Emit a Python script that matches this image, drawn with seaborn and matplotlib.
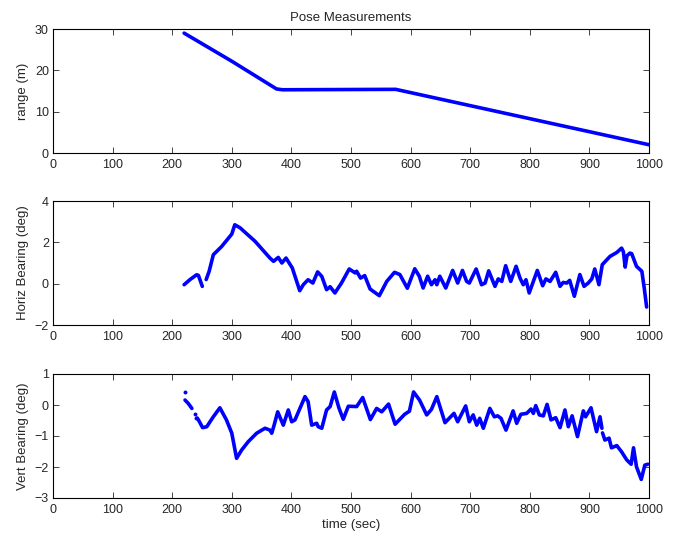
import numpy as np
import pandas as pd
import seaborn as sns
import matplotlib
matplotlib.use("Agg")
import matplotlib.pyplot as plt

# ---------------- data ----------------
range_t = [220, 300, 375, 385, 575, 1000]
range_v = [29.0, 22.2, 15.5, 15.3, 15.4, 2.0]

horiz_t_a = [220, 230, 241, 244, 250.5]
horiz_v_a = [-0.05, 0.2, 0.43, 0.4, -0.13]
horiz_t_b = [257, 262, 269, 283, 300, 305, 314, 339, 364, 370, 378, 384, 391, 398,
             401.5, 414, 420, 428, 436, 444, 451, 459, 465, 473, 484, 497, 507,
             509.5, 516, 523, 532, 547.5, 560, 573, 582, 594.5, 607, 614.6, 621,
             628.6, 635, 641, 644, 649, 659, 670.6, 679, 687, 694, 698.5, 710,
             719, 725, 731, 741.6, 747, 753, 759.5, 768, 777, 783.6, 789, 793.6,
             799, 812.6, 821.6, 827, 834, 843.5, 850.7, 856, 862, 867, 874.7, 884,
             891, 898, 904, 909, 916, 921.6, 934.6, 946, 954, 957, 960, 963, 968,
             971, 979, 988, 992, 996]
horiz_v_b = [0.2, 0.6, 1.4, 1.8, 2.4, 2.85, 2.7, 2.05, 1.24, 1.08, 1.27, 1.0, 1.24,
             0.92, 0.76, -0.34, -0.05, 0.19, 0.03, 0.57, 0.35, -0.29, -0.15, -0.45,
             0.03, 0.71, 0.52, 0.6, 0.27, 0.39, -0.26, -0.58, 0.11, 0.55, 0.44,
             -0.22, 0.72, 0.36, -0.21, 0.36, -0.05, 0.19, -0.05, 0.36, -0.21, 0.64,
             0.03, 0.64, 0.11, 0.03, 0.71, -0.05, 0.03, 0.62, -0.13, 0.23, 0.11,
             0.87, 0.11, 0.84, 0.27, -0.05, 0.19, -0.45, 0.64, -0.1, 0.23, 0.11,
             0.55, -0.13, 0.06, 0.03, 0.16, -0.61, 0.44, -0.13, 0.03, 0.23, 0.71,
             -0.05, 0.92, 1.32, 1.51, 1.72, 1.55, 0.8, 1.35, 1.48, 1.45, 0.84, 0.6,
             -0.21, -1.13]

vert_t_a = [221.5, 227, 233]
vert_v_a = [0.16, 0.05, -0.11]
vert_t_b = [242, 244, 251, 258, 269, 280, 291, 300, 308, 316.6, 327.7, 341.7, 355.7,
            364, 367, 371, 377, 386.4, 394.8, 400.5, 406, 422.8, 428, 434, 442.4,
            445, 451, 459, 465, 472, 480, 487, 495.5, 509.5, 519.6, 532.5, 543,
            551.5, 563, 574, 590, 598, 605, 615, 627, 635, 644, 657.7, 672.8, 679,
            692.4, 698.5, 705, 711, 716, 722, 733, 740.5, 746, 751.7, 760, 772, 778,
            785, 794.8, 802, 806, 810, 816, 822.7, 829, 835.6, 843.5, 850.7, 859,
            864.6, 871, 880, 889.8, 893.6, 902.7, 912, 917.8, 921]
vert_v_b = [-0.42, -0.48, -0.73, -0.7, -0.38, -0.09, -0.48, -0.91, -1.72, -1.45,
            -1.18, -0.91, -0.75, -0.81, -0.91, -0.65, -0.22, -0.65, -0.16, -0.54,
            -0.48, 0.27, 0.11, -0.65, -0.59, -0.7, -0.75, -0.16, -0.05, 0.42, -0.11,
            -0.46, -0.04, -0.05, 0.24, -0.47, -0.11, -0.22, 0.03, -0.62, -0.3, -0.2,
            0.42, 0.16, -0.32, -0.14, 0.27, -0.57, -0.27, -0.54, -0.03, -0.54, -0.32,
            -0.65, -0.43, -0.75, -0.11, -0.38, -0.35, -0.43, -0.81, -0.19, -0.59,
            -0.3, -0.27, -0.13, -0.27, -0.02, -0.32, -0.35, 0.02, -0.48, -0.41,
            -0.73, -0.16, -0.7, -0.35, -1.02, -0.19, -0.38, -0.09, -0.86, -0.38,
            -0.75]
vert_t_c = [922, 926, 933, 937, 946, 954, 962.6, 970, 974, 979, 987, 993, 998]
vert_v_c = [-0.9, -1.13, -1.07, -1.38, -1.31, -1.51, -1.77, -1.91, -1.38, -1.99,
            -2.4, -1.94, -1.91]
vert_dot_t = [221.5, 238, 239.4]
vert_dot_v = [0.41, -0.3, -0.41]

x_ticks = list(range(0, 1001, 100))
range_ticks = [0, 10, 20, 30]
horiz_ticks = [-2, 0, 2, 4]
vert_ticks = [-3, -2, -1, 0, 1]

# ---------------- style ----------------
sns.set_style("ticks", {"xtick.direction": "in", "ytick.direction": "in"})
plt.rcParams["font.family"] = ["Liberation Sans", "DejaVu Sans"]
plt.rcParams["font.size"] = 9
BLUE = (0, 0, 1)

fig = plt.figure(figsize=(6.78, 5.37), dpi=100)
W, H = 678, 537
def add_ax(top, bottom):
    return fig.add_axes([53 / W, 1 - bottom / H, 596 / W, (bottom - top) / H])

ax1 = add_ax(29, 153)
ax2 = add_ax(201, 325)
ax3 = add_ax(374, 498)

def segs(ax, pairs):
    frames = []
    for i, (t, v) in enumerate(pairs):
        frames.append(pd.DataFrame({"t": t, "v": v, "seg": i}))
    df = pd.concat(frames, ignore_index=True)
    sns.lineplot(data=df, x="t", y="v", units="seg", estimator=None, sort=False,
                 color=BLUE, linewidth=2.6, ax=ax, legend=False)

segs(ax1, [(range_t, range_v)])
segs(ax2, [(horiz_t_a, horiz_v_a), (horiz_t_b, horiz_v_b)])
segs(ax3, [(vert_t_a, vert_v_a), (vert_t_b, vert_v_b), (vert_t_c, vert_v_c)])
sns.scatterplot(x=vert_dot_t, y=vert_dot_v, color=BLUE, s=8, edgecolor=BLUE,
                linewidth=0, ax=ax3, legend=False)

for ax, yt, ylab in [(ax1, range_ticks, "range (m)"),
                     (ax2, horiz_ticks, "Horiz Bearing (deg)"),
                     (ax3, vert_ticks, "Vert Bearing (deg)")]:
    ax.set_xlim(0, 1000)
    ax.set_ylim(yt[0], yt[-1])
    ax.set_xticks(x_ticks)
    ax.set_yticks(yt)
    ax.set_xlabel("")
    ax.set_ylabel(ylab, fontsize=9.5)
    ax.tick_params(direction="in", top=True, right=True, length=4, width=0.6,
                   labelsize=9)
    ax.tick_params(axis="x", pad=4.5)
    ax.tick_params(axis="y", pad=3)
    for s in ax.spines.values():
        s.set_visible(True)
        s.set_linewidth(0.8)
        s.set_color("black")

ax1.set_title("Pose Measurements", fontsize=9.5, pad=6)
ax3.set_xlabel("time (sec)", fontsize=9.5, labelpad=2)

fig.savefig("out.png", dpi=100)
